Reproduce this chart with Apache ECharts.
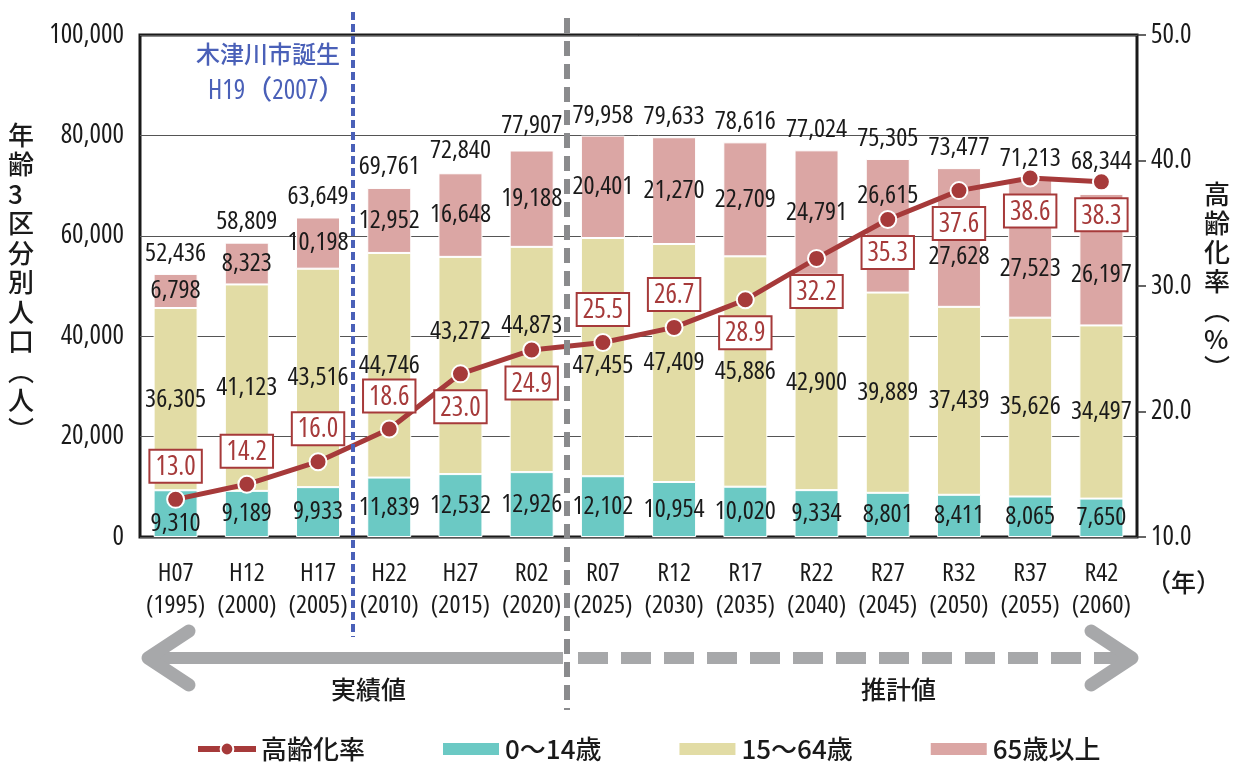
<!DOCTYPE html>
<html><head><meta charset="utf-8">
<script src="https://cdn.jsdelivr.net/npm/echarts@6/dist/echarts.min.js"></script>
<style>html,body{margin:0;padding:0;background:#fff}#c{width:1237px;height:764px}</style>
</head><body><div id="c"></div>
<script>
// ---- data ----
const eraLabels = ['H07','H12','H17','H22','H27','R02','R07','R12','R17','R22','R27','R32','R37','R42'];
const yearLabels = ['1995','2000','2005','2010','2015','2020','2025','2030','2035','2040','2045','2050','2055','2060'];
const age0to14 = [9310, 9189, 9933, 11839, 12532, 12926, 12102, 10954, 10020, 9334, 8801, 8411, 8065, 7650];
const age15to64 = [36305, 41123, 43516, 44746, 43272, 44873, 47455, 47409, 45886, 42900, 39889, 37439, 35626, 34497];
const age65plus = [6798, 8323, 10198, 12952, 16648, 19188, 20401, 21270, 22709, 24791, 26615, 27628, 27523, 26197];
const totals = [52436, 58809, 63649, 69761, 72840, 77907, 79958, 79633, 78616, 77024, 75305, 73477, 71213, 68344];
const agingRate = [13.0, 14.2, 16.0, 18.6, 23.0, 24.9, 25.5, 26.7, 28.9, 32.2, 35.3, 37.6, 38.6, 38.3];
const leftTicks = [0, 20000, 40000, 60000, 80000, 100000];
const rightTicks = [10, 20, 30, 40, 50];

// ---- styles ----
const NUMF = "'Open Sans','Noto Sans CJK JP',sans-serif";
const STRETCH = 'condensed';
const NUMW = 500;
const JPF = "'Noto Sans CJK JP','Noto Sans',sans-serif";
const C_TEAL = '#6bc9c4', C_KHAKI = '#e2dca5', C_PINK = '#dba6a4', C_RED = '#a63a3a';
const tealShift = {0: 10};
const midShift = {4: -34, 5: -34, 6: 8};
const pinkShift = {10: -30, 11: 19, 12: 20, 13: 15};
const totalShift = {13: -12};
const rateBelow = {4:1,5:1,8:1,9:1,10:1,11:1,12:1,13:1};
const fmt = v => v.toLocaleString('en-US');

function withShift(arr, shift) {
  return arr.map((v, i) => ({ value: v, label: { offset: [0, shift[i] || 0] } }));
}
const barLabel = { show: true, position: 'inside', color: '#1a1a1a', fontSize: 26, fontStyle: STRETCH, fontWeight: NUMW, fontFamily: NUMF, formatter: p => fmt(p.value) };

const chart = echarts.init(document.getElementById('c'), null, { renderer: 'canvas' });
const option = {
  backgroundColor: '#fff',
  animation: false,
  grid: { left: 140, right: 100, top: 35, bottom: 227, show: true, borderColor: '#1a1a1a', borderWidth: 3, backgroundColor: 'transparent' },
  xAxis: {
    type: 'category',
    data: eraLabels.map((e, i) => e + '\n(' + yearLabels[i] + ')'),
    axisLine: { show: false }, axisTick: { show: false },
    axisLabel: { color: '#1a1a1a', fontSize: 26, fontStyle: STRETCH, fontWeight: NUMW, fontFamily: NUMF, lineHeight: 32, margin: 21, interval: 0 }
  },
  yAxis: [
    { type: 'value', min: leftTicks[0], max: leftTicks[leftTicks.length - 1], interval: leftTicks[1] - leftTicks[0],
      axisLine: { show: false }, axisTick: { show: false },
      axisLabel: { color: '#1a1a1a', fontSize: 27, fontStyle: STRETCH, fontWeight: NUMW, fontFamily: NUMF, margin: 16, formatter: v => fmt(v) },
      splitLine: { show: true, lineStyle: { color: '#555', width: 1 } } },
    { type: 'value', min: rightTicks[0], max: rightTicks[rightTicks.length - 1], interval: rightTicks[1] - rightTicks[0],
      position: 'right',
      axisLine: { show: false }, axisTick: { show: true, length: 9, lineStyle: { color: '#333', width: 1.5 } },
      axisLabel: { color: '#1a1a1a', fontSize: 27, fontStyle: STRETCH, fontWeight: NUMW, fontFamily: NUMF, margin: 14, formatter: v => v.toFixed(1) },
      splitLine: { show: false } }
  ],
  legend: {
    left: 190, top: 731, itemWidth: 58, itemHeight: 16, itemGap: 76,
    textStyle: { fontSize: 26, fontFamily: JPF, color: '#1a1a1a', fontWeight: 500 },
    data: [
      { name: '高齢化率', lineStyle: { width: 6 } },
      { name: '0～14歳', icon: 'path://M0,1h58v14h-58z' },
      { name: '15～64歳', icon: 'path://M0,1h58v14h-58z' },
      { name: '65歳以上', icon: 'path://M0,1h58v14h-58z' }
    ]
  },
  series: [
    { name: '0～14歳', type: 'bar', stack: 'pop', barWidth: 44, data: withShift(age0to14, tealShift),
      itemStyle: { color: C_TEAL, borderColor: '#fff', borderWidth: 1 }, label: barLabel },
    { name: '15～64歳', type: 'bar', stack: 'pop', barWidth: 44, data: withShift(age15to64, midShift),
      itemStyle: { color: C_KHAKI, borderColor: '#fff', borderWidth: 1 }, label: barLabel },
    { name: '65歳以上', type: 'bar', stack: 'pop', barWidth: 44, data: withShift(age65plus, pinkShift),
      itemStyle: { color: C_PINK, borderColor: '#fff', borderWidth: 1 }, label: barLabel },
    { name: 'total', type: 'scatter', data: withShift(totals, totalShift), symbolSize: 1, itemStyle: { color: 'rgba(0,0,0,0)', opacity: 1 },
      label: { show: true, position: 'top', distance: 7, color: '#1a1a1a', opacity: 1, fontSize: 26, fontStyle: STRETCH, fontWeight: NUMW, fontFamily: NUMF, formatter: p => fmt(p.value) },
      z: 5, silent: true },
    { name: '高齢化率', type: 'line', yAxisIndex: 1, z: 10,
      data: agingRate.map((v, i) => ({ value: v, label: { position: rateBelow[i] ? 'bottom' : 'top' } })),
      symbol: 'circle', symbolSize: 17,
      lineStyle: { color: C_RED, width: 5 },
      itemStyle: { color: C_RED, borderColor: '#fff', borderWidth: 2 },
      label: { show: true, distance: 8, color: C_RED, fontSize: 27, fontStyle: STRETCH, fontWeight: NUMW, fontFamily: NUMF,
        backgroundColor: '#fff', borderColor: C_RED, borderWidth: 2, padding: [3, 5, 1, 5],
        formatter: p => p.value.toFixed(1) } }
  ],
  graphic: [
    // blue dashed line (city founded)
    { type: 'line', shape: { x1: 353, y1: 12, x2: 353, y2: 637 }, style: { stroke: '#4a60b8', lineWidth: 4, lineDash: [8, 4] }, z: 20 },
    { type: 'text', left: 196, top: 42, style: { text: '木津川市誕生', fill: '#4a60b8', font: "500 24px 'Noto Sans CJK JP'" }, z: 20 },
    { type: 'text', left: 208, top: 78, style: { text: 'H19（2007）', fill: '#4a60b8', font: "condensed 500 27px 'Open Sans','Noto Sans CJK JP'" }, z: 20 },
    // gray dashed separator
    { type: 'line', shape: { x1: 567, y1: 18, x2: 567, y2: 710 }, style: { stroke: '#8a8b8d', lineWidth: 6, lineDash: [15, 8] }, z: 20 },
    // arrows
    { type: 'line', shape: { x1: 150, y1: 658, x2: 563, y2: 658 }, style: { stroke: '#a7a8aa', lineWidth: 12 }, z: 15 },
    { type: 'polyline', shape: { points: [[189, 631], [148, 658], [189, 685]] }, style: { stroke: '#a7a8aa', lineWidth: 13, lineCap: 'round', lineJoin: 'round', fill: 'none' }, z: 15 },
    { type: 'line', shape: { x1: 578, y1: 658, x2: 1128, y2: 658 }, style: { stroke: '#a7a8aa', lineWidth: 12, lineDash: [30, 13] }, z: 15 },
    { type: 'polyline', shape: { points: [[1091, 631], [1132, 658], [1091, 685]] }, style: { stroke: '#a7a8aa', lineWidth: 13, lineCap: 'round', lineJoin: 'round', fill: 'none' }, z: 15 },
    { type: 'text', left: 331, top: 677, style: { text: '実績値', fill: '#1a1a1a', font: "500 25px 'Noto Sans CJK JP'" } },
    { type: 'text', left: 861, top: 677, style: { text: '推計値', fill: '#1a1a1a', font: "500 25px 'Noto Sans CJK JP'" } },
    // axis titles
    { type: 'text', left: 8, top: 120, style: { text: '年\n齢\n3\n区\n分\n別\n人\n口\n︵\n人\n︶', fill: '#1a1a1a', font: "500 26px 'Noto Sans CJK JP'", lineHeight: 29.5, align: 'center' } },
    { type: 'text', left: 1204, top: 180, style: { text: '高\n齢\n化\n率\n︵\n%\n︶', fill: '#1a1a1a', font: "500 26px 'Noto Sans CJK JP'", lineHeight: 29, align: 'center' } },
    { type: 'text', left: 1146, top: 570, style: { text: '（年）', fill: '#1a1a1a', font: "500 25px 'Noto Sans CJK JP'" } }
  ]
};
chart.setOption(option);
</script>
</body></html>
